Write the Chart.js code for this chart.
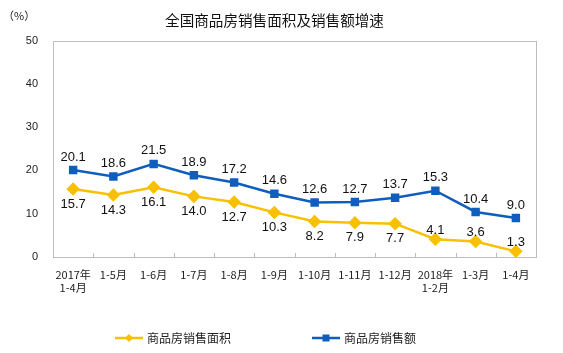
<!DOCTYPE html>
<html><head><meta charset="utf-8">
<script src="https://cdn.jsdelivr.net/npm/chart.js@4/dist/chart.umd.min.js"></script>
<style>html,body{margin:0;padding:0;background:#fff}#wrap{width:563px;height:353px}</style>
</head><body><div id="wrap"><canvas id="c" width="563" height="353"></canvas></div>
<script>
const categories = [['2017年','1-4月'],'1-5月','1-6月','1-7月','1-8月','1-9月','1-10月','1-11月','1-12月',['2018年','1-2月'],'1-3月','1-4月'];
const areaGrowth = [15.7,14.3,16.1,14.0,12.7,10.3,8.2,7.9,7.7,4.1,3.6,1.3];
const salesGrowth = [20.1,18.6,21.5,18.9,17.2,14.6,12.6,12.7,13.7,15.3,10.4,9.0];
const areaLabelSide = ['below','below','below','below','below','below','below','below','below','above','above','above'];
const salesLabelSide = ['above','above','above','above','above','above','above','above','above','above','above','above'];
const yTicks = [0,10,20,30,40,50];
const seriesNames = ['商品房销售面积','商品房销售额'];
const titleText = '全国商品房销售面积及销售额增速';
const unitText = '（%）';

const YELLOW = '#F8C000', BLUE = '#0F5EBE', GRAY = '#BDBDBD';
const sideLists = [areaLabelSide, salesLabelSide];

const decorPlugin = {
  id: 'decor',
  beforeDatasetsDraw(chart) {
    const ctx = chart.ctx, a = chart.chartArea, xs = chart.scales.x;
    ctx.save();
    ctx.strokeStyle = GRAY; ctx.lineWidth = 1;
    ctx.strokeRect(Math.round(a.left)+0.5, Math.round(a.top)+0.5, Math.round(a.right-a.left), Math.round(a.bottom-a.top));
    for (let i = 1; i < categories.length; i++) {
      const x = Math.round((xs.getPixelForValue(i-1) + xs.getPixelForValue(i)) / 2) + 0.5;
      ctx.beginPath(); ctx.moveTo(x, a.bottom); ctx.lineTo(x, a.bottom - 4); ctx.stroke();
    }
    ctx.restore();
  },
  afterDatasetsDraw(chart) {
    const ctx = chart.ctx;
    ctx.save();
    ctx.font = '13px "Liberation Sans", Arial, sans-serif';
    ctx.fillStyle = '#111';
    ctx.textAlign = 'center'; ctx.textBaseline = 'middle';
    chart.data.datasets.forEach((ds, di) => {
      const meta = chart.getDatasetMeta(di);
      meta.data.forEach((pt, i) => {
        const side = sideLists[di][i];
        let off;
        if (di === 1) off = -13; else off = side === 'above' ? -9 : 15;
        ctx.fillText(ds.data[i].toFixed(1), pt.x, pt.y + off);
      });
    });
    // unit
    const a = chart.chartArea;
    ctx.font = '11px "Noto Sans CJK SC", sans-serif';
    ctx.fillStyle = '#222';
    ctx.textAlign = 'left';
    ctx.fillText(unitText, a.left - 50, 16);
    // legend
    const ly = 338;
    const items = [
      {x: a.left + 62, color: YELLOW, style: 'diamond'},
      {x: a.left + 259, color: BLUE, style: 'square'}
    ];
    ctx.font = '12px "Noto Sans CJK SC", sans-serif';
    items.forEach((it, k) => {
      ctx.strokeStyle = it.color; ctx.lineWidth = 2.5;
      ctx.beginPath(); ctx.moveTo(it.x, ly); ctx.lineTo(it.x + 28, ly); ctx.stroke();
      ctx.fillStyle = it.color;
      const cx = it.x + 14;
      if (it.style === 'diamond') {
        ctx.beginPath(); ctx.moveTo(cx, ly-4); ctx.lineTo(cx+4, ly); ctx.lineTo(cx, ly+4); ctx.lineTo(cx-4, ly); ctx.closePath(); ctx.fill();
      } else {
        ctx.fillRect(cx-3.5, ly-3.5, 7, 7);
      }
      ctx.fillStyle = '#222';
      ctx.textAlign = 'left';
      ctx.fillText(chart.data.datasets[k].label, it.x + 32, ly);
    });
    ctx.restore();
  }
};

new Chart(document.getElementById('c'), {
  type: 'line',
  data: {
    labels: categories,
    datasets: [
      {label: seriesNames[0], data: areaGrowth, borderColor: YELLOW, backgroundColor: YELLOW,
       borderWidth: 2.5, pointStyle: 'rectRot', pointRadius: 5, pointHoverRadius: 5, tension: 0},
      {label: seriesNames[1], data: salesGrowth, borderColor: BLUE, backgroundColor: BLUE,
       borderWidth: 2.5, pointStyle: 'rect', pointRadius: 4.2, pointHoverRadius: 4.2, tension: 0}
    ]
  },
  options: {
    responsive: false,
    animation: false,
    devicePixelRatio: 1,
    layout: {padding: {left: 13, right: 27, top: 0, bottom: 50}},
    plugins: {
      legend: {display: false},
      tooltip: {enabled: false},
      title: {display: true, text: titleText, color: '#111',
        font: {family: '"Noto Sans CJK SC", sans-serif', size: 14.6, weight: 'normal'},
        padding: {top: 12, bottom: 11}}
    },
    scales: {
      x: {
        offset: true,
        grid: {display: false, drawTicks: false},
        border: {display: false},
        ticks: {color: '#222', padding: 11, maxRotation: 0, autoSkip: false,
          font: {family: '"Noto Sans CJK SC", sans-serif', size: 11, lineHeight: 1.2}},
        afterFit(s) { s.height = 46; }
      },
      y: {
        min: 0, max: 50,
        afterBuildTicks(s) { s.ticks = yTicks.map(v => ({value: v})); },
        grid: {display: false, drawTicks: false},
        border: {display: false},
        ticks: {color: '#222', padding: 15, font: {family: '"Liberation Sans", Arial, sans-serif', size: 11}},
        afterFit(s) { s.width = 40; }
      }
    }
  },
  plugins: [decorPlugin]
});
</script></body></html>
